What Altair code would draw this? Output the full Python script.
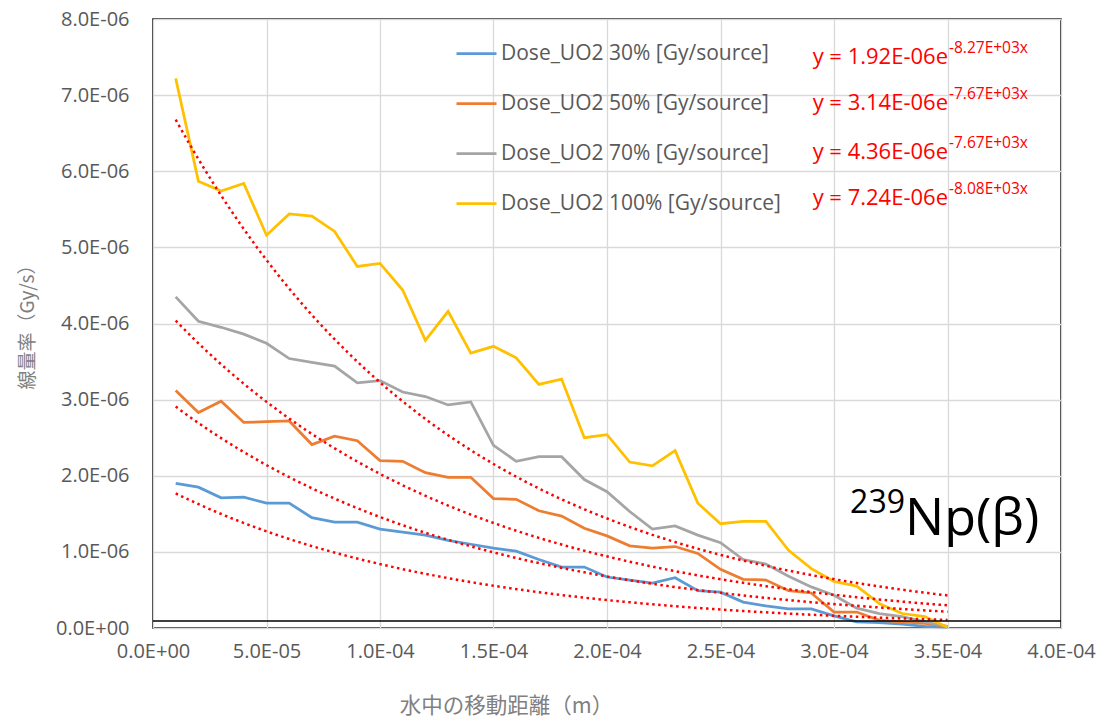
import altair as alt
import numpy as np
import pandas as pd

# Distance travelled in water, in units of 1E-05 m
distance_e5 = [1, 2, 3, 4, 5, 6, 7, 8, 9, 10, 11, 12, 13, 14, 15, 16, 17, 18,
               19, 20, 21, 22, 23, 24, 25, 26, 27, 28, 29, 30, 31, 32, 33, 34, 35]

# Dose rate per series, in units of 1E-06 Gy/s
dose_30 = [1.90, 1.85, 1.71, 1.72, 1.64, 1.64, 1.45, 1.39, 1.39, 1.30,
           1.26, 1.22, 1.15, 1.10, 1.05, 1.01, 0.90, 0.80, 0.80, 0.67,
           0.63, 0.59, 0.66, 0.49, 0.47, 0.34, 0.29, 0.25, 0.25, 0.16,
           0.08, 0.07, 0.05, 0.02, 0.01]
dose_50 = [3.12, 2.83, 2.98, 2.70, 2.71, 2.72, 2.41, 2.52, 2.46, 2.20,
           2.19, 2.04, 1.98, 1.98, 1.70, 1.69, 1.54, 1.47, 1.31, 1.21,
           1.08, 1.05, 1.07, 0.98, 0.77, 0.64, 0.63, 0.49, 0.46, 0.21,
           0.21, 0.10, 0.08, 0.06, 0.02]
dose_70 = [4.35, 4.03, 3.95, 3.86, 3.74, 3.54, 3.49, 3.44, 3.22, 3.25,
           3.10, 3.04, 2.93, 2.97, 2.40, 2.19, 2.25, 2.25, 1.95, 1.79,
           1.53, 1.30, 1.34, 1.22, 1.12, 0.90, 0.84, 0.68, 0.54, 0.43,
           0.26, 0.19, 0.15, 0.08, 0.02]
dose_100 = [7.22, 5.87, 5.74, 5.84, 5.16, 5.44, 5.41, 5.21, 4.75, 4.79,
            4.44, 3.78, 4.16, 3.61, 3.70, 3.55, 3.20, 3.27, 2.50, 2.54,
            2.18, 2.13, 2.33, 1.64, 1.37, 1.40, 1.40, 1.02, 0.78, 0.61,
            0.55, 0.32, 0.19, 0.15, 0.01]

series_names = ["Dose_UO2 30% [Gy/source]", "Dose_UO2 50% [Gy/source]",
                "Dose_UO2 70% [Gy/source]", "Dose_UO2 100% [Gy/source]"]
series_colors = ["#5B9BD5", "#ED7D31", "#A5A5A5", "#FFC000"]
series_values = [dose_30, dose_50, dose_70, dose_100]

# Exponential trendline coefficients: y = a * exp(b * x)
fit_a = [1.92e-06, 3.14e-06, 4.36e-06, 7.24e-06]
fit_b = [-8.27e+03, -7.67e+03, -7.67e+03, -8.08e+03]
fit_a_text = ["1.92E-06", "3.14E-06", "4.36E-06", "7.24E-06"]
fit_b_text = ["-8.27E+03x", "-7.67E+03x", "-7.67E+03x", "-8.08E+03x"]

x_ticks = [0, 5e-05, 1e-04, 1.5e-04, 2e-04, 2.5e-04, 3e-04, 3.5e-04, 4e-04]
y_ticks = [0, 1e-06, 2e-06, 3e-06, 4e-06, 5e-06, 6e-06, 7e-06, 8e-06]

W, H = 908, 609
LABEL_FONT = "Open Sans"
CJK_FONT = "Noto Sans CJK JP"
sci_label = "replace(replace(format(datum.value, '.1e'), 'e-', 'E-0'), 'e+', 'E+0')"

rows = []
for name, vals in zip(series_names, series_values):
    for d, v in zip(distance_e5, vals):
        rows.append({"x": d * 1e-05, "y": v * 1e-06, "series": name})
dose_df = pd.DataFrame(rows)

trend_rows = []
x_fit = np.linspace(distance_e5[0] * 1e-05, distance_e5[-1] * 1e-05, 120)
for name, a, b in zip(series_names, fit_a, fit_b):
    for xv in x_fit:
        trend_rows.append({"x": float(xv), "y": float(a * np.exp(b * xv)), "series": name})
trend_df = pd.DataFrame(trend_rows)

x_enc = alt.X(
    "x:Q",
    scale=alt.Scale(domain=[0, 4e-04], nice=False, zero=False),
    axis=alt.Axis(
        values=x_ticks, labelExpr=sci_label, grid=True, gridColor="#D9D9D9",
        gridWidth=1.3, ticks=False, domain=False, labelFontSize=20,
        labelColor="#595959", labelFont=LABEL_FONT, labelPadding=13,
        labelFlush=False, labelOverlap=False,
        title="水中の移動距離（m）", titleFont=CJK_FONT, titleFontSize=21.5,
        titleFontWeight="normal", titleColor="#808080", titleX=353, titleY=78,
        titleAlign="center", titleBaseline="middle",
    ),
)
y_enc = alt.Y(
    "y:Q",
    scale=alt.Scale(domain=[0, 8e-06], nice=False),
    axis=alt.Axis(
        values=y_ticks, labelExpr=sci_label, grid=True, gridColor="#D9D9D9",
        gridWidth=1.3, ticks=False, domain=False, labelFontSize=20,
        labelColor="#595959", labelFont=LABEL_FONT, labelPadding=24,
        labelFlush=False, labelOverlap=False,
        title="線量率（Gy/s）", titleFont=CJK_FONT, titleFontSize=19,
        titleFontWeight="normal", titleColor="#808080", titleX=-126, titleY=303,
        titleAngle=-90, titleAlign="center", titleBaseline="middle",
    ),
)

dose_lines = alt.Chart(dose_df).mark_line(strokeWidth=2.75).encode(
    x=x_enc,
    y=y_enc,
    color=alt.Color(
        "series:N",
        scale=alt.Scale(domain=series_names, range=series_colors),
        legend=alt.Legend(
            title=None, orient="none", legendX=302, legendY=13, padding=0,
            symbolType="stroke", symbolSize=1600, symbolStrokeWidth=2.75,
            labelFontSize=21, labelColor="#595959", labelFont=LABEL_FONT,
            labelOffset=3, rowPadding=18, labelLimit=400,
        ),
    ),
)

trend_lines = alt.Chart(trend_df).mark_line(
    color="#FF0000", strokeWidth=2.5, strokeDash=[2.5, 3.5]
).encode(x="x:Q", y="y:Q", detail="series:N")

# Second bottom border line of the plot frame
frame_rule = alt.Chart(pd.DataFrame({"k": [0]})).mark_rule(
    color="black", strokeWidth=1.5
).encode(x=alt.value(0), x2=alt.value(W), y=alt.value(602))

eq_rows_y = [38, 84, 133, 179]
eq_layers = []
for ay, bt, py in zip(fit_a_text, fit_b_text, eq_rows_y):
    eq_layers.append(
        alt.Chart(pd.DataFrame({"t": [f"y = {ay}e"]})).mark_text(
            align="right", baseline="middle", fontSize=22, color="#FF0000",
            font=LABEL_FONT,
        ).encode(text="t:N", x=alt.value(795), y=alt.value(py))
    )
    eq_layers.append(
        alt.Chart(pd.DataFrame({"t": [bt]})).mark_text(
            align="left", baseline="middle", fontSize=15.5, color="#FF0000",
            font=LABEL_FONT,
        ).encode(text="t:N", x=alt.value(796), y=alt.value(py - 9))
    )

nuclide_mass = alt.Chart(pd.DataFrame({"t": ["239"]})).mark_text(
    align="right", baseline="alphabetic", fontSize=32, color="black", font=LABEL_FONT
).encode(text="t:N", x=alt.value(752), y=alt.value(494))
nuclide_name = alt.Chart(pd.DataFrame({"t": ["Np(β)"]})).mark_text(
    align="left", baseline="alphabetic", fontSize=52, color="black", font=LABEL_FONT
).encode(text="t:N", x=alt.value(752), y=alt.value(516))

chart = alt.layer(
    dose_lines, trend_lines, frame_rule, *eq_layers, nuclide_mass, nuclide_name
).properties(
    width=W, height=H, autosize="none",
    padding={"left": 153, "top": 19, "right": 48, "bottom": 92},
    background="white",
).configure_view(
    stroke="black", strokeWidth=1.5
)

chart.save("out.html", embed_options={"renderer": "svg", "actions": False})
